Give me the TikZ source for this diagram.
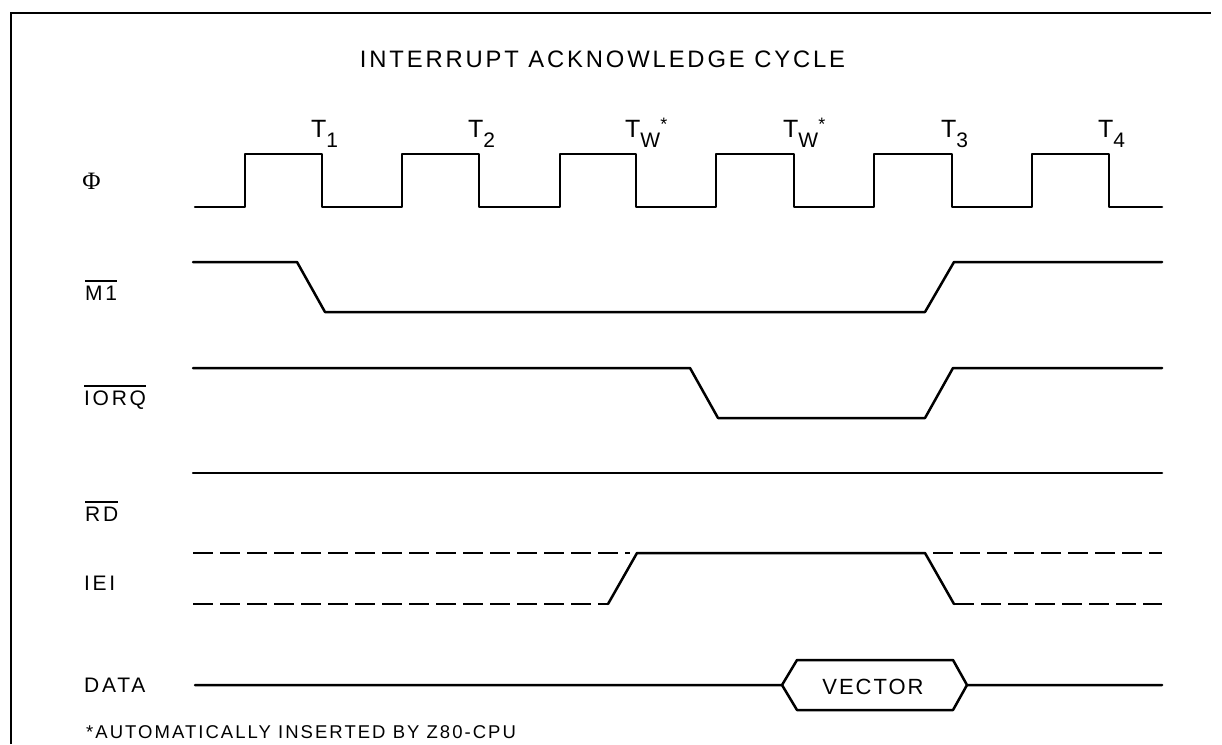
\documentclass[tikz,border=0pt]{standalone}
\usepackage{fontspec}
\setmainfont{Liberation Sans}
\newfontfamily\phifont{Liberation Serif}
\newcommand\ovl[1]{\leavevmode\vbox{\hrule height 1.8pt\kern 3.5pt\hbox{#1}}}
\newcommand\Tsub[1]{T\raisebox{-10pt}{\fontsize{21}{21}\selectfont #1}}
\newcommand\Tw{T\raisebox{-10pt}{\fontsize{21}{21}\selectfont W}\raisebox{7pt}{\fontsize{18}{18}\selectfont *}}
\begin{document}
\begin{tikzpicture}[x=1pt,y=-1pt,
  wave/.style={line width=2.5pt, line join=round, line cap=round},
  dwave/.style={line width=2.5pt, dash pattern=on 20pt off 7pt},
  frame/.style={line width=1.3pt},
  lab/.style={anchor=base west, inner sep=0pt, font=\fontsize{21}{24}\selectfont\addfontfeature{LetterSpace=13}},
  tlab/.style={anchor=base west, inner sep=0pt, font=\fontsize{25}{28}\selectfont},
  titlestyle/.style={anchor=base, inner sep=0pt, font=\fontsize{23.8}{28}\selectfont\addfontfeature{LetterSpace=12}},
  notestyle/.style={anchor=base west, inner sep=0pt, font=\fontsize{18.5}{22}\selectfont\addfontfeature{LetterSpace=11}},
  vecstyle/.style={inner sep=0pt, font=\fontsize{22}{26}\selectfont\addfontfeature{LetterSpace=9}}
]
\useasboundingbox (0,0) rectangle (1222,744);
% frame
\draw[frame] (11,744) -- (11,13) -- (1211,13);

% title
\node[titlestyle] (title) at (602.5,67) {INTERRUPT ACKNOWLEDGE CYCLE};

% clock phase labels
\node[tlab] (t1) at (311,137) {\Tsub{1}};
\node[tlab] (t2) at (468,137) {\Tsub{2}};
\node[tlab] (tw1) at (625,137) {\Tw};
\node[tlab] (tw2) at (783,137) {\Tw};
\node[tlab] (t3) at (941,137) {\Tsub{3}};
\node[tlab] (t4) at (1098,137) {\Tsub{4}};

% signal labels
\node[inner sep=0pt, font=\phifont\fontsize{25}{28}\selectfont] (phi) at (91.5,181.5) {Φ};
\node[lab] (m1) at (85,300) {\ovl{M1}};
\node[lab] (iorq) at (84,405) {\ovl{IORQ}};
\node[lab] (rd) at (85,521) {\ovl{RD}};
\node[lab] (iei) at (84,590) {IEI};
\node[lab] (data) at (84,692) {DATA};

% clock
\draw[wave] (195,207) -- (245,207) -- (245,154) -- (322,154) -- (322,207)
  -- (402,207) -- (402,154) -- (479,154) -- (479,207)
  -- (560,207) -- (560,154) -- (636,154) -- (636,207)
  -- (716,207) -- (716,154) -- (794,154) -- (794,207)
  -- (874,207) -- (874,154) -- (952,154) -- (952,207)
  -- (1032,207) -- (1032,154) -- (1109,154) -- (1109,207) -- (1162,207);

% M1
\draw[wave] (193,262) -- (297,262) -- (325,312) -- (925,312) -- (954,262) -- (1162,262);
% IORQ
\draw[wave] (193,368) -- (690,368) -- (718,418) -- (925,418) -- (953,368) -- (1162,368);
% RD
\draw[wave] (193,473) -- (1162,473);
% IEI
\draw[dwave] (193,553) -- (630,553);
\draw[dwave] (193,604) -- (608,604);
\draw[wave] (608,604) -- (637,553) -- (925,553) -- (954,604);
\draw[dwave] (954,604) -- (1162,604);
\draw[dwave] (933,553) -- (1162,553);

% DATA
\draw[wave] (195,685) -- (782,685) -- (797,660) -- (953,660) -- (967,685) -- (1162,685);
\draw[wave] (782,685) -- (797,710) -- (953,710) -- (967,685);
\node[vecstyle] (vector) at (873,687) {VECTOR};

% footnote
\node[notestyle] (note) at (86,738) {*AUTOMATICALLY INSERTED BY Z80-CPU};
\end{tikzpicture}
\end{document}
